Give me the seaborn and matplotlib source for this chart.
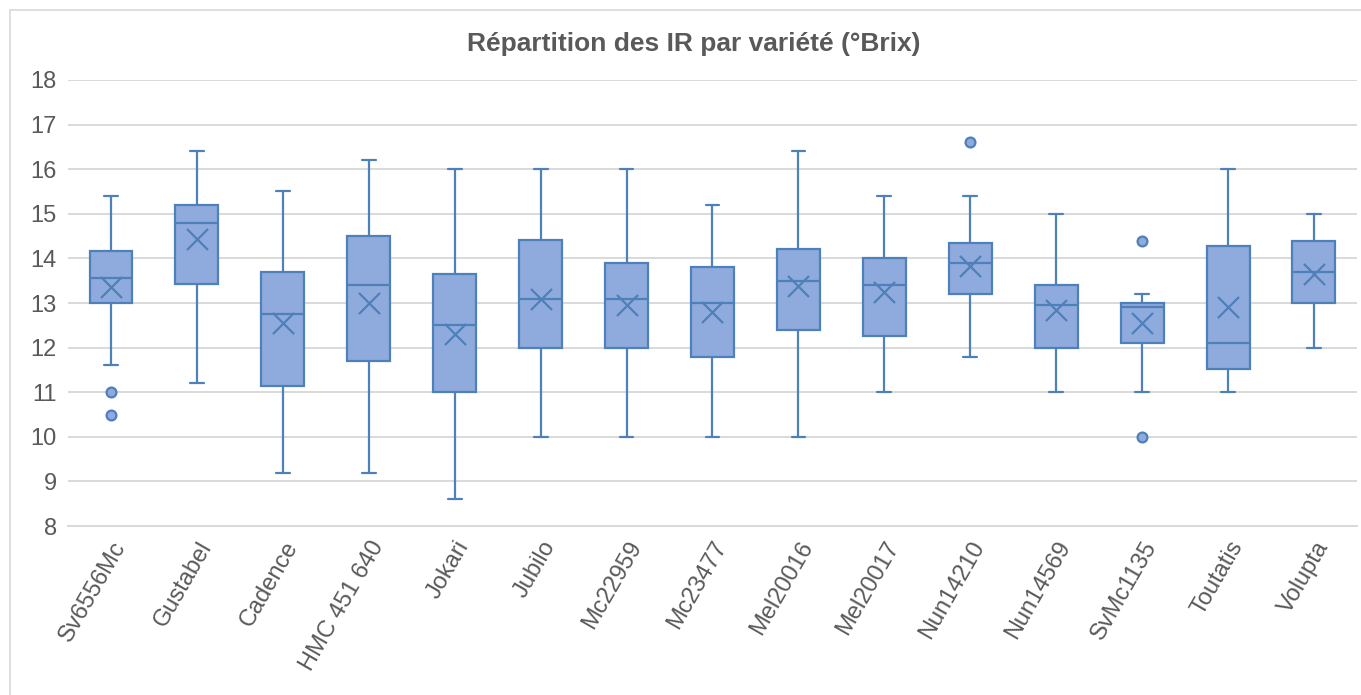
import numpy as np
import pandas as pd
import matplotlib
matplotlib.use("Agg")
import matplotlib.pyplot as plt
import seaborn as sns
from matplotlib.lines import Line2D

# Valeurs (°Brix)
varietes = ['Sv6556Mc', 'Gustabel', 'Cadence', 'HMC 451 640', 'Jokari', 'Jubilo',
            'Mc22959', 'Mc23477', 'Mel20016', 'Mel20017', 'Nun14210', 'Nun14569',
            'SvMc1135', 'Toutatis', 'Volupta']
moust_bas = [11.6, 11.2, 9.2, 9.2, 8.6, 10.0, 10.0, 10.0, 10.0, 11.0, 11.8, 11.0, 11.0, 11.0, 12.0]
q1 = [13.0, 13.43, 11.15, 11.7, 11.0, 12.0, 12.0, 11.8, 12.4, 12.25, 13.2, 12.0, 12.1, 11.52, 13.0]
mediane = [13.55, 14.8, 12.75, 13.4, 12.5, 13.1, 13.1, 13.0, 13.5, 13.4, 13.9, 12.95, 12.9, 12.1, 13.7]
q3 = [14.17, 15.2, 13.7, 14.5, 13.65, 14.42, 13.9, 13.8, 14.2, 14.0, 14.35, 13.4, 13.0, 14.28, 14.4]
moust_haut = [15.4, 16.4, 15.5, 16.2, 16.0, 16.0, 16.0, 15.2, 16.4, 15.4, 15.4, 15.0, 13.2, 16.0, 15.0]
moyenne = [13.35, 14.43, 12.55, 13.0, 12.3, 13.1, 12.95, 12.8, 13.38, 13.25, 13.84, 12.84, 12.55, 12.9, 13.65]
aberrants = {'Sv6556Mc': [11.0, 10.5], 'Nun14210': [16.6], 'SvMc1135': [14.4, 10.0]}

fill = '#8FAADC'
edge = '#4E80BA'
gris = '#595959'

sns.set_theme(style='whitegrid')
plt.rcParams['font.family'] = ['Liberation Sans', 'DejaVu Sans']

fig = plt.figure(figsize=(13.61, 6.95), dpi=100)
ax = fig.add_axes([0.05, 0.243, 0.947, 0.642])

pos = np.arange(len(varietes))
stats = []
for i, v in enumerate(varietes):
    stats.append({'label': v, 'whislo': moust_bas[i], 'q1': q1[i], 'med': mediane[i],
                  'q3': q3[i], 'whishi': moust_haut[i], 'fliers': []})

lw = 1.6
ax.bxp(stats, positions=pos, widths=0.5, capwidths=0.16, patch_artist=True,
       showfliers=False, manage_ticks=False,
       boxprops=dict(facecolor=fill, edgecolor=edge, linewidth=lw),
       medianprops=dict(color=edge, linewidth=lw),
       whiskerprops=dict(color=edge, linewidth=lw),
       capprops=dict(color=edge, linewidth=lw))

df_moy = pd.DataFrame({'pos': pos, 'moyenne': moyenne})
sns.scatterplot(data=df_moy, x='pos', y='moyenne', marker='x', s=230,
                color=edge, linewidth=1.6, ax=ax, zorder=5)

rows = [(varietes.index(k), val) for k, vals in aberrants.items() for val in vals]
df_ab = pd.DataFrame(rows, columns=['pos', 'valeur'])
sns.scatterplot(data=df_ab, x='pos', y='valeur', marker='o', s=50,
                color=fill, edgecolor=edge, linewidth=1.6, ax=ax, zorder=5)

ax.set_xlim(-0.5, len(varietes) - 0.5)
ax.set_ylim(8, 18)
ax.set_yticks(range(8, 19))
ax.set_xticks(pos)
ax.set_xticklabels(varietes, rotation=60, ha='right', rotation_mode='anchor')
ax.tick_params(axis='both', labelsize=17, colors=gris, length=0, pad=8)
ax.set_xlabel('')
ax.set_ylabel('')
ax.grid(axis='y', color='#D9D9D9', linewidth=1.4)
ax.grid(axis='x', visible=False)
for s in ['left', 'right', 'top']:
    ax.spines[s].set_visible(False)
ax.spines['bottom'].set_color('#D9D9D9')
ax.spines['bottom'].set_linewidth(1.4)
ax.set_axisbelow(True)

fig.text(0.51, 0.937, 'Répartition des IR par variété (°Brix)', ha='center', va='center',
         fontsize=19, fontweight='bold', color=gris)

# cadre du graphique
fig.add_artist(Line2D([10 / 1361, 10 / 1361], [0, 1 - 10 / 695], color='#D9D9D9', lw=1.2))
fig.add_artist(Line2D([10 / 1361, 1], [1 - 10 / 695, 1 - 10 / 695], color='#D9D9D9', lw=1.2))

fig.savefig('out.png', dpi=100)
